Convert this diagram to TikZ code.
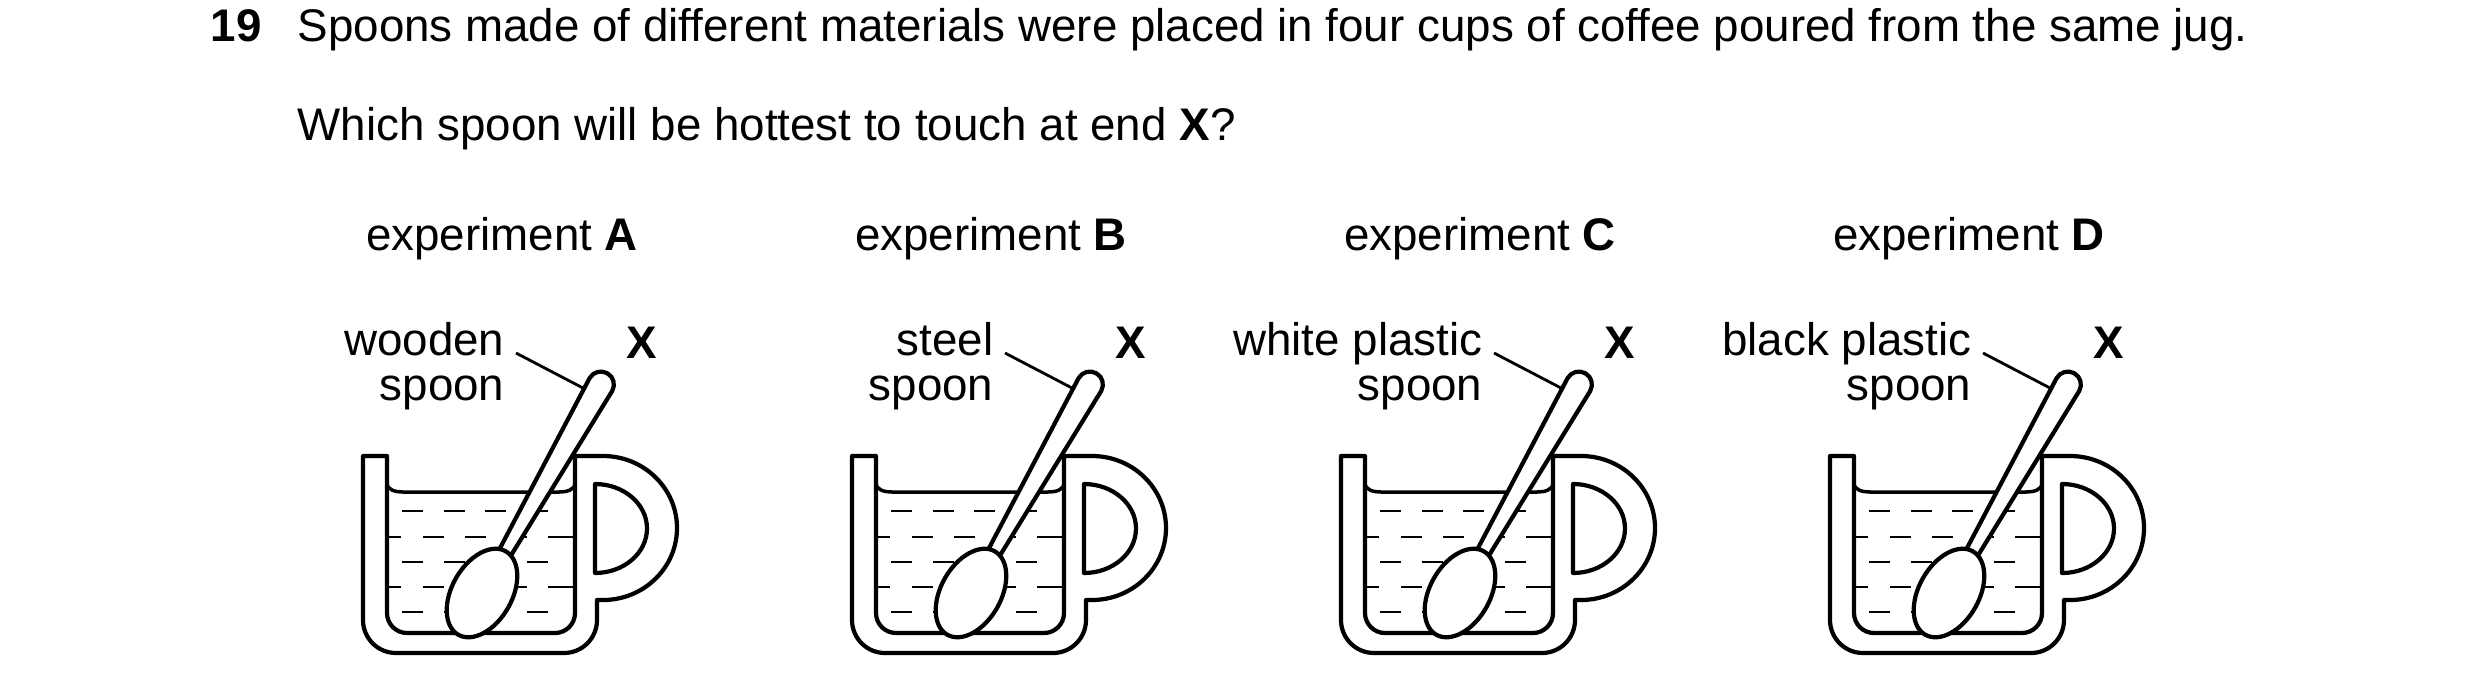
\documentclass[tikz,border=0pt]{standalone}
\usepackage{fontspec}
\setmainfont{Liberation Sans}
\usepackage{tikz}

\tikzset{
  wall/.style={line width=1.2pt, line join=round},
  coffeedash/.style={line width=0.6pt},
  lbl/.style={font=\fontsize{13}{12.8}\selectfont, inner sep=0pt},
  pics/mug/.style n args={2}{code={
    % cup body and handle
    \draw[wall] (0,0) [rounded corners=3.3mm] -- (0,-197) -- (234,-197) [sharp corners] -- (234,-144) -- (240,-144)
      arc[start angle=-90,end angle=90,x radius=74,y radius=72] -- (212,0)
      [rounded corners=2mm] -- (212,-177) -- (24,-177) [sharp corners] -- (24,0) -- cycle;
    \draw[wall] (232,-28) -- (232,-117) arc[start angle=-90,end angle=90,x radius=52,y radius=44.5] -- cycle;
    % coffee
    \draw[wall, line width=1pt] (24,-27) to[out=-90,in=180] (40,-36) -- (196,-36) to[out=0,in=-90] (212,-27);
    \foreach \y in {-55,-106,-156}
      \foreach \x in {39,81,122,164}
        \draw[coffeedash] (\x,\y) -- ++(21,0);
    \foreach \y in {-81,-131}
      {\draw[coffeedash] (24,\y) -- (38,\y);
       \foreach \x in {60,102,143}
         \draw[coffeedash] (\x,\y) -- ++(21,0);
       \draw[coffeedash] (185,\y) -- (212,\y);}
    % spoon
    \begin{scope}[shift={(119,-137)}, rotate=60.3]
      \draw[wall, fill=white] (45,-6.5) -- (240,-13) arc[start angle=-90,end angle=90,radius=13] -- (45,6.5) -- cycle;
      \draw[wall, fill=white] (0,0) ellipse[x radius=48, y radius=30];
    \end{scope}
    % labels
    \node[lbl, align=right, anchor=base east] (-name) at (142,56) {#2\\spoon};
    \coordinate (-tip) at (220,68);
    \draw[line width=0.8pt] (153,103) -- (-tip);
    \node[lbl, font=\fontsize{13}{13}\selectfont\bfseries] (-x) at (279,113) {X};
    \node[lbl, anchor=base] (-title) at (139,206) {experiment \textbf{#1}};
  }}
}

\begin{document}
\begin{tikzpicture}[x=0.01cm, y=0.01cm]
\useasboundingbox (0,0) rectangle (2480,-693);
% question
\node[lbl, anchor=base west, font=\fontsize{13}{13}\selectfont\bfseries] (num) at (210,-41) {19};
\node[lbl, anchor=base west] (q1) at (297,-41) {Spoons made of different materials were placed in four cups of coffee poured from the same jug.};
\node[lbl, anchor=base west] (q2) at (297,-140) {Which spoon will be hottest to touch at end \textbf{X}?};
% the four cups
\pic (a) at (363,-456) {mug={A}{wooden}};
\pic (b) at (852,-456) {mug={B}{steel}};
\pic (c) at (1341,-456) {mug={C}{white plastic}};
\pic (d) at (1830,-456) {mug={D}{black plastic}};
\end{tikzpicture}
\end{document}
